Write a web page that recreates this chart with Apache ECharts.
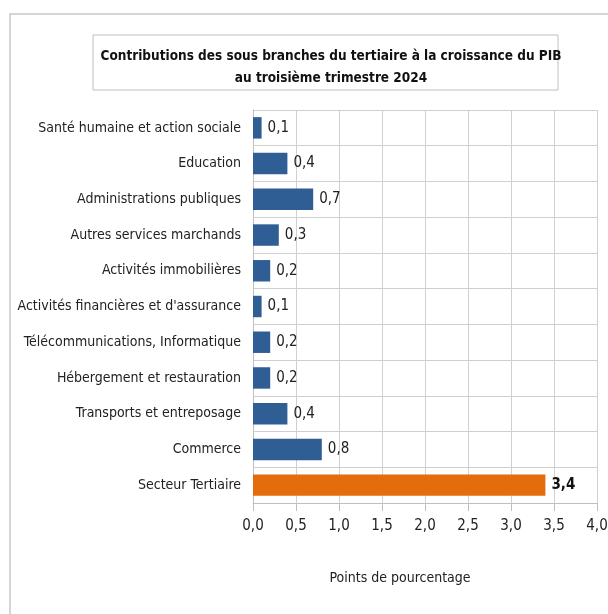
<!DOCTYPE html>
<html>
<head>
<meta charset="utf-8">
<script src="https://cdn.jsdelivr.net/npm/echarts@6/dist/echarts.min.js"></script>
<style>
  html, body { margin: 0; padding: 0; background: #fff; }
  #chart { width: 608px; height: 614px; }
</style>
</head>
<body>
<div id="chart"></div>
<script>
// données (de haut en bas)
const branches = [
  'Santé humaine et action sociale',
  'Education',
  'Administrations publiques',
  'Autres services marchands',
  'Activités immobilières',
  "Activités financières et d'assurance",
  'Télécommunications, Informatique',
  'Hébergement et restauration',
  'Transports et entreposage',
  'Commerce',
  'Secteur Tertiaire'
];
const contributions = [0.1, 0.4, 0.7, 0.3, 0.2, 0.1, 0.2, 0.2, 0.4, 0.8, 3.4];
const totalIndex = 10; // Secteur Tertiaire

const FONT = '"Liberation Sans Narrow", "DejaVu Sans Condensed", "Open Sans", sans-serif';
const fmt = v => v.toFixed(1).replace('.', ',');

let myChart = echarts.init(document.getElementById('chart'));

myChart.setOption({
  animation: false,
  backgroundColor: '#fff',
  textStyle: { fontFamily: FONT },
  graphic: [
    // cadre extérieur
    { type: 'rect', shape: { x: 10, y: 14, width: 640, height: 640 },
      style: { fill: 'none', stroke: '#c8c8c8', lineWidth: 1.5 }, silent: true },
    // cadre du titre
    { type: 'rect', shape: { x: 93, y: 35, width: 465, height: 55 },
      style: { fill: '#fff', stroke: '#c0c0c0', lineWidth: 1 }, silent: true, z: -1 }
  ],
  title: {
    text: 'Contributions des sous branches du tertiaire à la croissance du PIB\nau troisième trimestre 2024',
    left: 326,
    top: 40,
    textAlign: 'center',
    textStyle: { fontFamily: FONT, fontSize: 13.5, fontWeight: 'bold', color: '#111', lineHeight: 22 }
  },
  grid: { left: 253, right: 11, top: 110, bottom: 111, containLabel: false, outerBoundsMode: 'none' },
  xAxis: {
    type: 'value',
    min: 0, max: 4, interval: 0.5,
    name: 'Points de pourcentage',
    nameLocation: 'middle',
    nameGap: 68,
    nameTextStyle: { fontFamily: FONT, fontSize: 14, color: '#222', padding: [0, 50, 0, 0] },
    axisLine: { show: true, lineStyle: { color: '#bfbfbf' } },
    axisTick: { show: true, length: 8, lineStyle: { color: '#bfbfbf' } },
    axisLabel: { formatter: fmt, fontSize: 15, color: '#222', margin: 16 },
    splitLine: { show: true, lineStyle: { color: '#d0d0d0' } }
  },
  yAxis: {
    type: 'category',
    data: branches,
    inverse: true,
    axisLine: { show: true, lineStyle: { color: '#bfbfbf' } },
    axisTick: { show: false },
    axisLabel: { fontSize: 14, color: '#222', margin: 12 },
    splitLine: { show: true, lineStyle: { color: '#d0d0d0' } }
  },
  series: [{
    type: 'bar',
    barCategoryGap: '40%',
    data: contributions.map((v, i) => ({
      value: v,
      itemStyle: { color: i === totalIndex ? '#E46C0A' : '#2F5E95' },
      label: i === totalIndex ? { fontWeight: 'bold', color: '#111' } : {}
    })),
    label: {
      show: true,
      position: 'right',
      distance: 6,
      fontSize: 15,
      color: '#222',
      formatter: p => fmt(p.value)
    }
  }]
});
</script>
</body>
</html>
